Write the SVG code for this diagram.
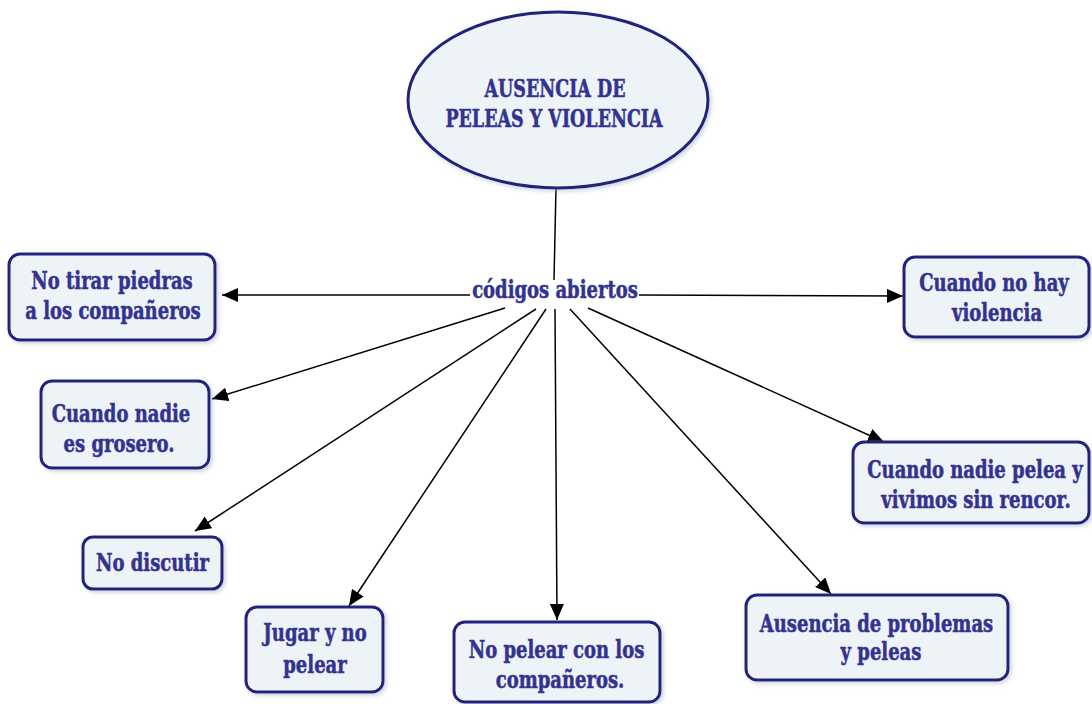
<svg xmlns="http://www.w3.org/2000/svg" width="1092" height="704" viewBox="0 0 1092 704">
<defs>
<marker id="ah" viewBox="0 0 16 14" refX="16" refY="7" markerWidth="16" markerHeight="14" markerUnits="userSpaceOnUse" orient="auto">
<path d="M0,0 L16,7 L0,14 z" fill="#000"/>
</marker>
<filter id="sh" x="-10%" y="-10%" width="130%" height="130%">
<feDropShadow dx="2" dy="2" stdDeviation="2" flood-color="#9aa6c0" flood-opacity="0.5"/>
</filter>
</defs>
<style>
.box{fill:#eef3f8;stroke:#23237a;stroke-width:3;filter:url(#sh)}
.t{font-family:"DejaVu Serif",serif;font-weight:bold;font-size:25px;fill:#33338f;stroke:#33338f;stroke-width:0.6;text-anchor:middle}
.c{stroke:#000;stroke-width:1.5;fill:none;marker-end:url(#ah)}
</style>
<rect width="1092" height="704" fill="#fff"/>
<g id="connectors">
<line x1="556" y1="188" x2="554" y2="280" stroke="#000" stroke-width="1.5"/>
<line class="c" x1="470" y1="295" x2="222" y2="295"/>
<line class="c" x1="639" y1="295" x2="903" y2="296"/>
<line class="c" x1="505" y1="308" x2="212" y2="399"/>
<line class="c" x1="536" y1="309" x2="195" y2="531"/>
<line class="c" x1="546" y1="309" x2="349" y2="606"/>
<line class="c" x1="555" y1="309" x2="557" y2="620"/>
<line class="c" x1="570" y1="309" x2="831" y2="594"/>
<line class="c" x1="588" y1="308" x2="884" y2="442"/>
</g>
<g id="root">
<ellipse cx="558" cy="100" rx="150" ry="88" fill="#eef3f8" stroke="#23237a" stroke-width="3" filter="url(#sh)"/>
<text class="t" font-size="26" transform="translate(555,97) scale(0.7,1)">AUSENCIA DE</text>
<text class="t" font-size="26" transform="translate(554,127) scale(0.7,1)">PELEAS Y VIOLENCIA</text>
</g>
<g id="label">
<text class="t" transform="translate(555,298) scale(0.72,1)">códigos abiertos</text>
</g>
<g id="n1">
<rect class="box" x="9" y="254" width="206" height="86" rx="11"/>
<text class="t" transform="translate(112,289) scale(0.72,1)">No tirar piedras</text>
<text class="t" transform="translate(113,319) scale(0.72,1)">a los compañeros</text>
</g>
<g id="n2">
<rect class="box" x="41" y="381" width="168" height="87" rx="11"/>
<text class="t" transform="translate(121,422) scale(0.72,1)">Cuando nadie</text>
<text class="t" transform="translate(119,452) scale(0.72,1)">es grosero.</text>
</g>
<g id="n3">
<rect class="box" x="83" y="537" width="139" height="52" rx="10"/>
<text class="t" transform="translate(152.5,571) scale(0.72,1)">No discutir</text>
</g>
<g id="n4">
<rect class="box" x="246" y="607" width="137" height="85" rx="11"/>
<text class="t" transform="translate(315,641) scale(0.72,1)">Jugar y no</text>
<text class="t" transform="translate(315,673) scale(0.72,1)">pelear</text>
</g>
<g id="n5">
<rect class="box" x="454" y="622" width="206" height="80" rx="11"/>
<text class="t" transform="translate(556.5,658) scale(0.72,1)">No pelear con los</text>
<text class="t" transform="translate(560,688) scale(0.72,1)">compañeros.</text>
</g>
<g id="n6">
<rect class="box" x="746" y="595" width="262" height="85" rx="11"/>
<text class="t" transform="translate(876.5,632) scale(0.72,1)">Ausencia de problemas</text>
<text class="t" transform="translate(881,660) scale(0.72,1)">y peleas</text>
</g>
<g id="n7">
<rect class="box" x="853" y="442" width="236" height="81" rx="11"/>
<text class="t" transform="translate(975,478) scale(0.72,1)">Cuando nadie pelea y</text>
<text class="t" transform="translate(976,508) scale(0.72,1)">vivimos sin rencor.</text>
</g>
<g id="n8">
<rect class="box" x="904" y="257" width="185" height="80" rx="11"/>
<text class="t" transform="translate(994,291) scale(0.72,1)">Cuando no hay</text>
<text class="t" transform="translate(997,321) scale(0.72,1)">violencia</text>
</g>
</svg>
